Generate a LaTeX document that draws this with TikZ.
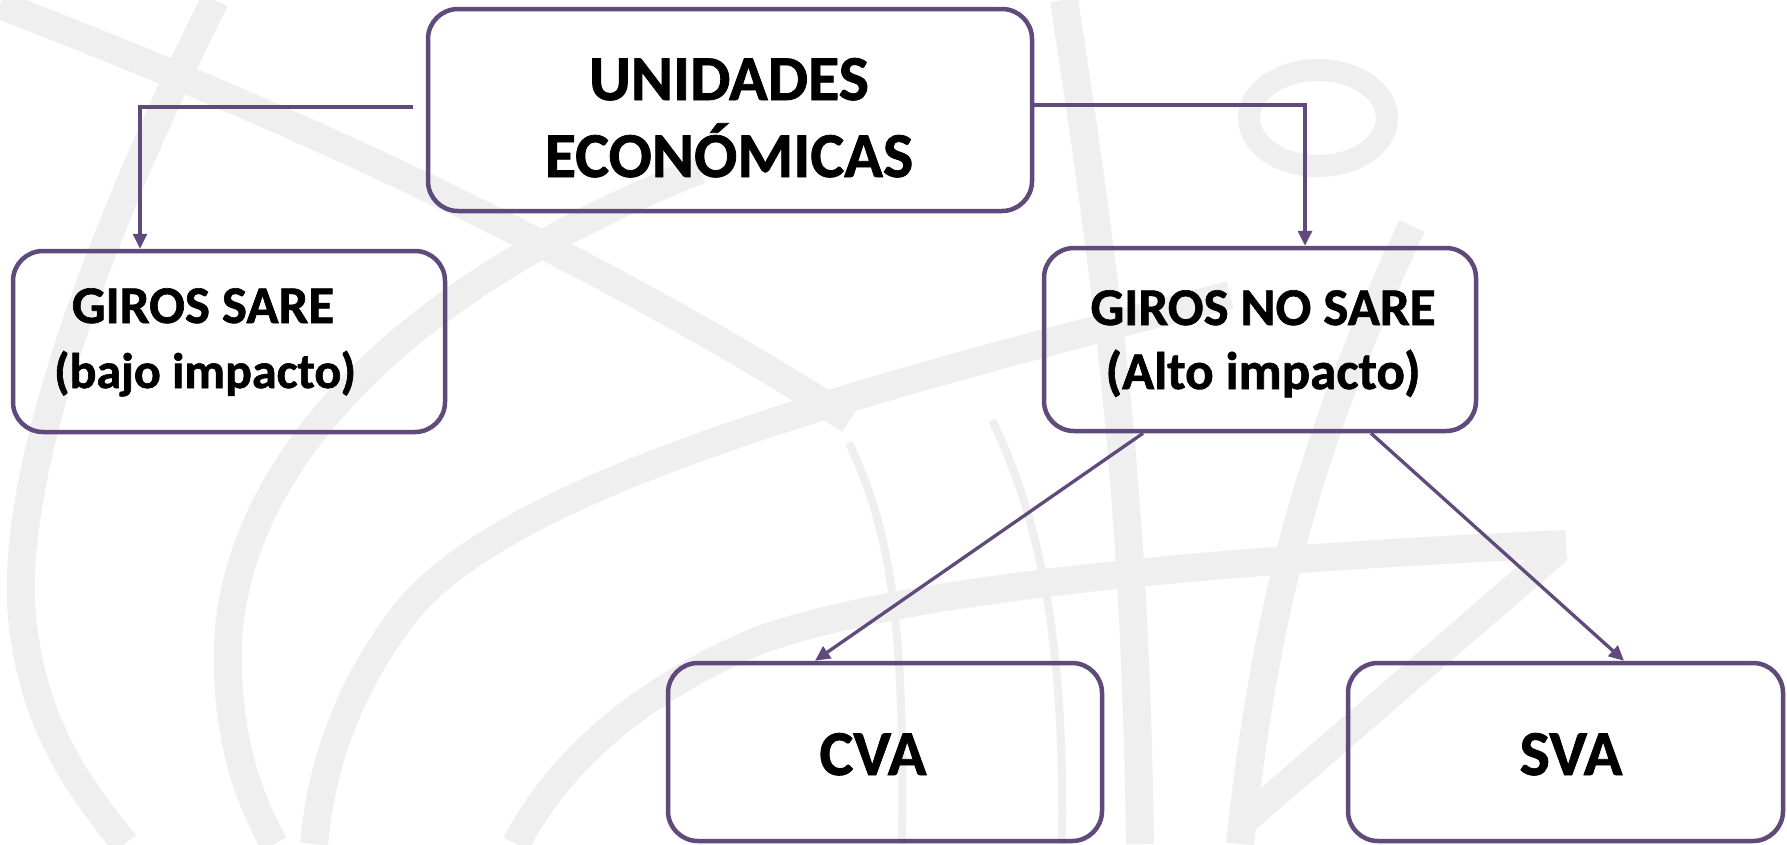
\documentclass[tikz,border=0pt]{standalone}
\usepackage{fontspec}
\setmainfont{Carlito}[BoldFeatures={FakeBold=1.2}]
\usetikzlibrary{arrows.meta}
\definecolor{pur}{RGB}{96,74,123}
\definecolor{wm}{RGB}{239,239,239}
\begin{document}
\begin{tikzpicture}[x=1pt,y=-1pt,
  box/.style={draw=pur, line width=4.5pt, rounded corners=30pt, inner sep=0pt},
  arr/.style={draw=pur, line width=3.3pt, -{Triangle[length=15pt,width=14pt]}},
  txt/.style={anchor=base, inner sep=0pt},
  fa/.style={font=\fontsize{64}{76}\selectfont\bfseries},
  fb/.style={font=\fontsize{53}{64}\selectfont\bfseries},
  fc/.style={font=\fontsize{50}{60}\selectfont\bfseries},
  wmk/.style={draw=wm, line width=28pt},
  wmt/.style={draw=wm, line width=8pt}]
\useasboundingbox (0,0) rectangle (1787,844);
\fill[white] (0,0) rectangle (1787,844);
% watermark
\draw[wmk] (0,5) .. controls (300,120) and (600,260) .. (850,420);
\draw[wmk] (215,0) .. controls (90,250) and (0,500) .. (25,640) .. controls (40,740) and (90,800) .. (125,844);
\draw[wmk] (700,170) .. controls (420,280) and (240,450) .. (228,640) .. controls (225,740) and (250,800) .. (274,844);
\draw[wmk] (1230,295) .. controls (900,380) and (500,480) .. (400,620) .. controls (340,700) and (320,780) .. (314,844);
\draw[wmk] (1566,544) .. controls (1200,560) and (900,590) .. (760,640) .. controls (640,690) and (560,760) .. (516,844);
\draw[wm, line width=22pt] (1318,118) ellipse [x radius=69, y radius=48];
\draw[wmk] (1064,0) .. controls (1110,300) and (1135,500) .. (1140,844);
\draw[wmk] (1412,226) .. controls (1330,400) and (1270,560) .. (1240,844);
\draw[wmk] (1559,549) -- (1243,822);
\draw[wmt] (849,443) .. controls (890,530) and (905,620) .. (902,844);
\draw[wmt] (992,420) .. controls (1040,520) and (1065,640) .. (1062,844);
% boxes
\node[box, minimum width=604pt, minimum height=202pt] (top) at (730,110) {};
\node[txt, fa] (t1) at (729,100) {UNIDADES};
\node[txt, fa] (t2) at (729,177) {ECONÓMICAS};
\node[box, minimum width=432pt, minimum height=181pt] (sare) at (229,341.5) {};
\node[txt, fb] (s1) at (203,323) {GIROS SARE};
\node[txt, fc] (s2) at (205,388) {(bajo impacto)};
\node[box, minimum width=432pt, minimum height=183pt] (nosare) at (1260,339.5) {};
\node[txt, fb] (n1) at (1263,325) {GIROS NO SARE};
\node[txt, fb] (n2) at (1263,389) {(Alto impacto)};
\node[box, minimum width=434pt, minimum height=178pt] (cva) at (885,752) {};
\node[txt, fa] (c1) at (873,775) {CVA};
\node[box, minimum width=435pt, minimum height=178pt] (sva) at (1565.5,752) {};
\node[txt, fa] (v1) at (1571,775) {SVA};
% connectors
\draw[arr] ([xshift=-13pt,yshift=3pt]top.west) -| ([xshift=-89pt]sare.north);
\draw[arr] ([yshift=5pt]top.east) -| ([xshift=45pt]nosare.north);
\draw[arr] ([xshift=-117pt]nosare.south) -- ([xshift=-70pt]cva.north);
\draw[arr] ([xshift=111pt]nosare.south) -- ([xshift=58.5pt]sva.north);
\end{tikzpicture}
\end{document}
